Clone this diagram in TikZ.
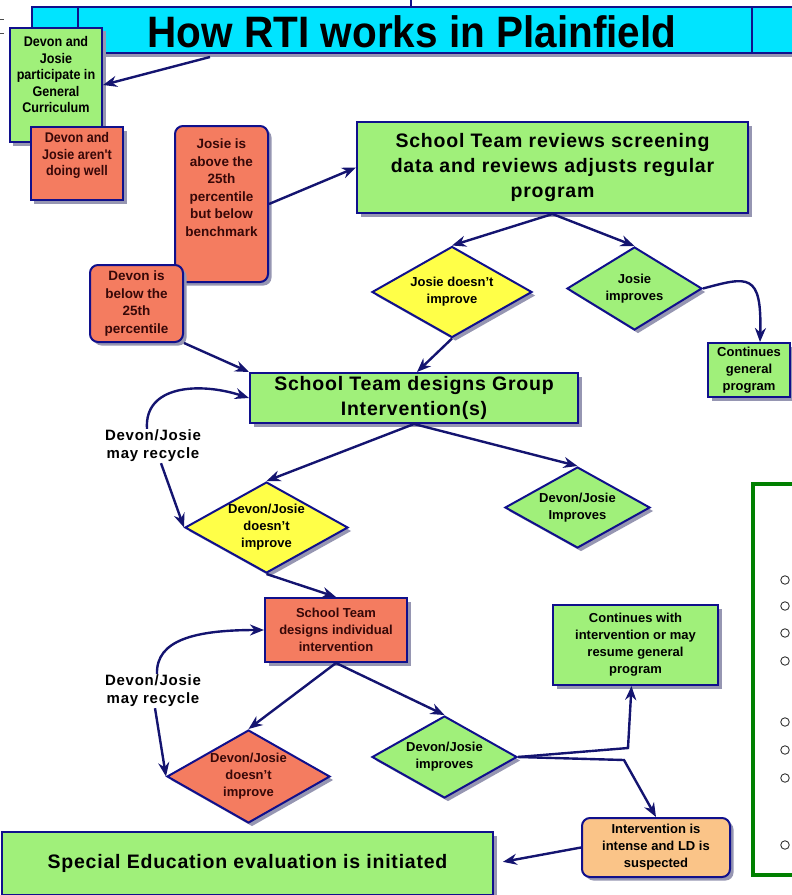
\documentclass[tikz,border=0pt]{standalone}
\usepackage{fontspec}
\setmainfont{Liberation Sans}
\newfontfamily\tfont{Liberation Sans}[FakeStretch=0.92]
\newfontfamily\wfont{Liberation Sans}[LetterSpace=4]
\newfontfamily\lfont{Liberation Sans}[LetterSpace=5]
\newfontfamily\nfont{Liberation Sans}[FakeStretch=0.9]
\usetikzlibrary{shapes.geometric,arrows.meta,shadows,calc}
\definecolor{gfill}{RGB}{160,240,122}
\definecolor{sfill}{RGB}{244,124,96}
\definecolor{yfill}{RGB}{255,255,72}
\definecolor{ofill}{RGB}{250,196,136}
\definecolor{cfill}{RGB}{0,228,255}
\definecolor{navy}{RGB}{16,16,140}
\definecolor{arrc}{RGB}{20,20,112}
\definecolor{shad}{RGB}{150,150,178}
\definecolor{frameg}{RGB}{0,128,0}
\definecolor{stext}{RGB}{55,8,8}
\newcommand\ftitle{\fontsize{44bp}{48bp}\selectfont\tfont\bfseries}
\newcommand\fbig{\fontsize{19.5bp}{25bp}\selectfont\wfont\bfseries}
\newcommand\fmid{\fontsize{13.5bp}{17.5bp}\selectfont\bfseries}
\newcommand\fnar{\fontsize{14bp}{16.5bp}\selectfont\nfont\bfseries}
\newcommand\fsm{\fontsize{13bp}{17bp}\selectfont\bfseries}
\newcommand\flab{\fontsize{15bp}{18bp}\selectfont\lfont\bfseries}
\begin{document}
\begin{tikzpicture}[x=1bp,y=-1bp,
  base/.style={draw=navy, line width=2bp, inner sep=0pt, align=center, text=black},
  sh/.style={drop shadow={shadow xshift=3.5bp, shadow yshift=-3.5bp, fill=shad, opacity=1}},
  gbox/.style={base, sh, rectangle, fill=gfill},
  sbox/.style={base, sh, rectangle, fill=sfill, text=stext},
  rbox/.style={base, sh, rectangle, rounded corners=8bp},
  dia/.style={base, sh, diamond, aspect=1.75},
  arr/.style={draw=arrc, line width=2.4bp, -{Stealth[length=14bp,width=11bp]}},
  lab/.style={align=center, inner sep=1bp, font=\flab},
  bullet/.style={circle, draw=black!80, line width=0.9bp, minimum size=8.5bp, inner sep=0pt}
]
\useasboundingbox (0,0) rectangle (792,895);
\clip (0,0) rectangle (792,895);

% title bar
\draw[navy, line width=1.2bp] (411,0) -- (411,7);
\node[base, fill=cfill, minimum width=768bp, minimum height=46bp,
      drop shadow={shadow xshift=0bp, shadow yshift=-4bp, fill=shad, opacity=1}] (title) at (416,30) {};
\draw[navy, line width=2bp] (78,7) -- (78,53) (752,7) -- (752,53);
\node[font=\ftitle, inner sep=0pt] (ttl) at (412,32) {How RTI works in Plainfield};
\draw[black!70, line width=1bp] (0,19) -- (4,19) (0,33) -- (4,33);

% top-left boxes
\node[gbox, minimum width=92bp, minimum height=114bp, font=\fnar] (part) at (56,85)
  {Devon and\\Josie\\participate in\\General\\Curriculum\\[4bp]~};
\node[sbox, minimum width=92bp, minimum height=73bp, font=\fnar] (aren) at (77,163.5)
  {Devon and\\Josie aren't\\doing well\\[2bp]~};
\node[rbox, fill=sfill, text=stext, minimum width=93bp, minimum height=156bp, font=\fmid] (ja) at (221.5,204)
  {Josie is\\above the\\25th\\percentile\\but below\\benchmark\\[15bp]~};
\node[rbox, fill=sfill, text=stext, minimum width=93bp, minimum height=77bp, font=\fmid] (dv) at (136.5,303.5)
  {Devon is\\below the\\25th\\percentile};

% review
\node[gbox, minimum width=391bp, minimum height=91bp, font=\fbig] (rev) at (552.5,167.5)
  {School Team reviews screening\\data and reviews adjusts regular\\program};
\node[dia, fill=yfill, minimum width=160bp, minimum height=91bp, font=\fsm] (jdi) at (452,292)
  {Josie doesn't\\improve};
\node[dia, fill=gfill, minimum width=135bp, minimum height=83bp, font=\fsm] (ji) at (634.5,288.5)
  {Josie\\improves};
\node[gbox, minimum width=82bp, minimum height=54bp, font=\fsm] (cg) at (749,370)
  {Continues\\general\\program};

% group intervention
\node[gbox, minimum width=328bp, minimum height=50bp, font=\fbig] (grp) at (414,398)
  {School Team designs Group\\Intervention(s)};
\node[lab] (rc1) at (153,446) {Devon/Josie\\may recycle};
\node[dia, fill=yfill, minimum width=163bp, minimum height=91bp, font=\fsm] (djdi) at (266.5,527.5)
  {Devon/Josie\\doesn't\\improve};
\node[dia, fill=gfill, minimum width=145bp, minimum height=81bp, font=\fsm] (dji) at (577.5,507.5)
  {Devon/Josie\\Improves};

% individual intervention
\node[sbox, minimum width=142bp, minimum height=64bp, font=\fsm] (ind) at (336,630)
  {School Team\\designs individual\\intervention};
\node[lab] (rc2) at (153,691) {Devon/Josie\\may recycle};
\node[dia, fill=sfill, text=stext, minimum width=163bp, minimum height=93bp, font=\fsm] (djdi2) at (248.5,776.5)
  {Devon/Josie\\doesn't\\improve};
\node[dia, fill=gfill, minimum width=145bp, minimum height=82bp, font=\fsm] (dji2) at (444.5,757)
  {Devon/Josie\\improves};
\node[gbox, minimum width=165bp, minimum height=80bp, font=\fsm] (cw) at (635.5,645)
  {Continues with\\intervention or may\\resume general\\program};
\node[rbox, fill=ofill, minimum width=148bp, minimum height=59bp, font=\fsm] (iis) at (656,847.5)
  {Intervention is\\intense and LD is\\suspected};
\node[gbox, minimum width=491bp, minimum height=63bp, font=\fbig] (sped) at (247.5,863.5)
  {Special Education evaluation is initiated};

% green frame with bullets
\draw[frameg, line width=4bp] (820,484) -- (753,484) -- (753,875) -- (820,875);
\foreach \yy [count=\i] in {580,606,633,661,722,750,778,845}
  \node[bullet] (b\i) at (785,\yy) {};

% connectors
\coordinate (t0) at (210,57);
\draw[arr] (t0) -- (part.east);
\draw[arr] (ja.east) -- (rev.west);
\draw[arr] (rev.south) -- (jdi.north);
\draw[arr] (rev.south) -- (ji.north);
\draw[arr] (ji.east) .. controls +(45,-12) and +(2,-70) .. ($(cg.north)+(11,0)$);
\draw[arr] (jdi.south) -- ($(grp.north)+(3,0)$);
\draw[arr] (dv.south east) -- (grp.north west);
\draw[arr] ($(rc1.north)+(-6,0)$) .. controls (144,385) and (200,382) .. (grp.west);
\draw[arr] ($(rc1.south)+(8,0)$) -- (djdi.west);
\draw[arr] (grp.south) -- (djdi.north);
\draw[arr] (grp.south) -- (dji.north);
\draw[arr] (djdi.south) -- (ind.north);
\draw[arr] ($(rc2.north)+(4,0)$) .. controls (156,640) and (195,630) .. (ind.west);
\draw[arr] ($(rc2.south)+(2,0)$) -- (djdi2.west);
\draw[arr] (ind.south) -- (djdi2.north);
\draw[arr] (ind.south) -- (dji2.north);
\coordinate (e1) at (628,748);
\coordinate (e2) at (624,760);
\draw[arr] (dji2.east) -- (e1) -- ($(cw.south)+(-4,0)$);
\draw[arr] (dji2.east) -- (e2) -- (iis.north);
\draw[arr, shorten >=9bp] (iis.west) -- (sped.east);
\end{tikzpicture}
\end{document}
